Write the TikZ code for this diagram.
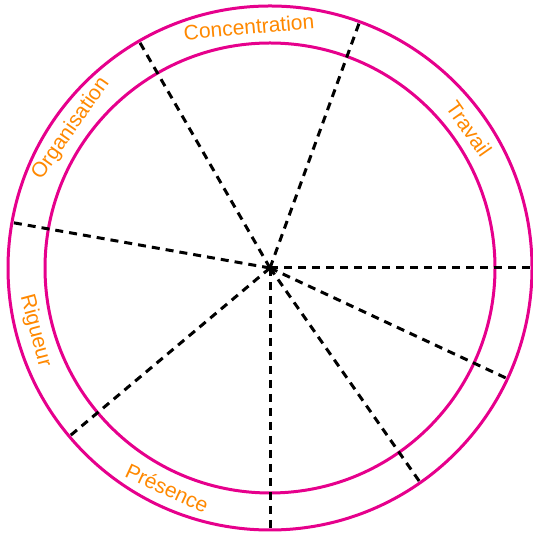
\documentclass[tikz,border=0pt]{standalone}
\usepackage{fontspec}
\setmainfont{Liberation Sans}
\usepackage{xcolor}
\usepackage{tikz}
\usetikzlibrary{calc}
\definecolor{ringcolor}{RGB}{230,0,140}
\definecolor{labelcolor}{RGB}{255,136,0}

\begin{document}
\begin{tikzpicture}[
    x=1pt, y=1pt,
    ring/.style={draw=ringcolor, line width=3pt},
    spoke/.style={draw=black, line width=3pt, dash pattern=on 8pt off 6pt},
    axis label/.style={text=labelcolor, font=\fontsize{21}{23}\selectfont, inner sep=0pt},
]
    \useasboundingbox (0,0) rectangle (532,534);
    \coordinate (O) at (270,266);
    \draw[ring] (O) circle (262);
    \draw[ring] (O) circle (225);
    \foreach \a in {0,70,120,170,220,270,305,335}
        \draw[spoke] (O) -- ($(O)+(\a:262)$);
    % labels along the ring
    \node[axis label, rotate=-55] (travail) at ($(O)+(35:243)$) {Travail};
    \node[axis label, rotate=5] (concentration) at ($(O)+(95:242)$) {Concentration};
    \node[axis label, rotate=55] (organisation) at ($(O)+(145:243)$) {Organisation};
    \node[axis label, rotate=-75] (rigueur) at ($(O)+(195:243)$) {Rigueur};
    \node[axis label, rotate=-25] (presence) at ($(O)+(245:243)$) {Présence};
\end{tikzpicture}
\end{document}
